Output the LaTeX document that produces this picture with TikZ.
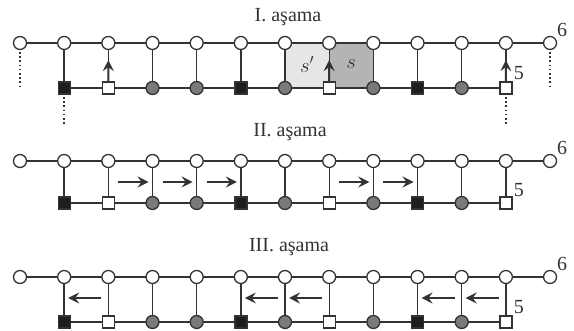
\documentclass[tikz,border=0pt]{standalone}
\usepackage{fontspec}
\setmainfont{Liberation Serif}
\usetikzlibrary{arrows.meta,calc,backgrounds}
\definecolor{linec}{HTML}{333333}
\definecolor{grayc}{HTML}{7A7A7A}
\definecolor{blackc}{HTML}{1E1E1E}
\definecolor{lightc}{HTML}{E6E6E6}
\definecolor{darkc}{HTML}{B4B4B4}
\begin{document}
\begin{tikzpicture}[x=1pt,y=1pt,
  gline/.style={draw=linec, line width=1.35pt},
  wc/.style={circle, draw=linec, fill=white, line width=1.3pt, minimum size=13pt, inner sep=0pt},
  gc/.style={wc, fill=grayc},
  ws/.style={rectangle, draw=linec, fill=white, line width=1.3pt, minimum size=12pt, inner sep=0pt},
  bs/.style={ws, fill=blackc},
  arr/.style={draw=linec, line width=2pt, -{Stealth[length=11pt,width=11pt,inset=4pt]}},
  lbl/.style={font=\fontsize{20}{22}\selectfont, text=linec, inner sep=0pt},
  dotl/.style={draw=linec, line width=1.8pt, dash pattern=on 1.6pt off 2.6pt}]
\useasboundingbox (0,0) rectangle (574,331);
% nodes
\foreach \r/\yt/\yb in {a/288/243, b/170/128, c/54/9}{
  \foreach \i in {0,...,12}{
    \node[wc] (\r-t\i) at ({20+44.17*\i},\yt) {};
  }
  \foreach \i/\s in {1/bs,2/ws,3/gc,4/gc,5/bs,6/gc,7/ws,8/gc,9/bs,10/gc,11/ws}{
    \node[\s] (\r-b\i) at ({20+44.17*\i},\yb) {};
  }
  \foreach \i in {1,...,11}{
    \coordinate (\r-m\i) at ($(\r-t\i.center)!0.5!(\r-b\i.center)$);
  }
  \node[lbl] (\r-six) at ($(\r-t12.center)+(12,13)$) {6};
  \node[lbl] (\r-five) at ($(\r-m11)+(13,-8)$) {5};
}
% titles
\node[lbl, anchor=base] (title1) at (288,309) {I. aşama};
\node[lbl, anchor=base] (title2) at (290,194) {II. aşama};
\node[lbl, anchor=base] (title3) at (289,79) {III. aşama};
% background: shading and lines
\begin{scope}[on background layer]
  \fill[lightc] (a-t6.center) rectangle (a-b7.center);
  \fill[darkc] (a-t7.center) rectangle (a-b8.center);
  \foreach \r in {a,b,c}{
    \draw[gline] (\r-t0.center) -- (\r-t12.center);
    \draw[gline] (\r-b1.center) -- (\r-b11.center);
  }
  \foreach \i in {1,...,11}{
    \draw[gline] (a-b\i.center) -- (a-t\i.center);
    \draw[gline] (b-b\i.center) -- (b-t\i.center);
    \draw[gline] (c-b\i.center) -- (c-t\i.center);
  }
\end{scope}
% s' and s labels
\node[lbl] (sp) at ($(a-m6)!0.5!(a-m7)+(0,1)$) {$s'$};
\node[lbl] (s) at ($(a-m7)!0.5!(a-m8)+(0,1)$) {$s$};
% stage I vertical arrows
\foreach \i in {2,7,11}{
  \draw[arr] (a-b\i) -- ($(a-b\i.center)!0.62!(a-t\i.center)$);
}
% stage I dotted lines
\coordinate (d0) at ($(a-t0.center)+(0,-43)$);
\coordinate (d12) at ($(a-t12.center)+(0,-43)$);
\coordinate (d1) at ($(a-b1.center)+(0,-36)$);
\coordinate (d11) at ($(a-b11.center)+(0,-36)$);
\draw[dotl] ($(a-t0.center)+(0,-9)$) -- (d0);
\draw[dotl] ($(a-t12.center)+(0,-9)$) -- (d12);
\draw[dotl] ($(a-b1.center)+(0,-9)$) -- (d1);
\draw[dotl] ($(a-b11.center)+(0,-9)$) -- (d11);
% stage II arrows (right)
\foreach \i/\j in {2/3,3/4,4/5,7/8,8/9}{
  \draw[arr] ($(b-m\i)+(10,0)$) -- ($(b-m\j)+(-4,0)$);
}
% stage III arrows (left)
\foreach \i/\j in {1/2,5/6,6/7,9/10,10/11}{
  \draw[arr] ($(c-m\j)+(-7,1.5)$) -- ($(c-m\i)+(4,1.5)$);
}
\end{tikzpicture}
\end{document}
